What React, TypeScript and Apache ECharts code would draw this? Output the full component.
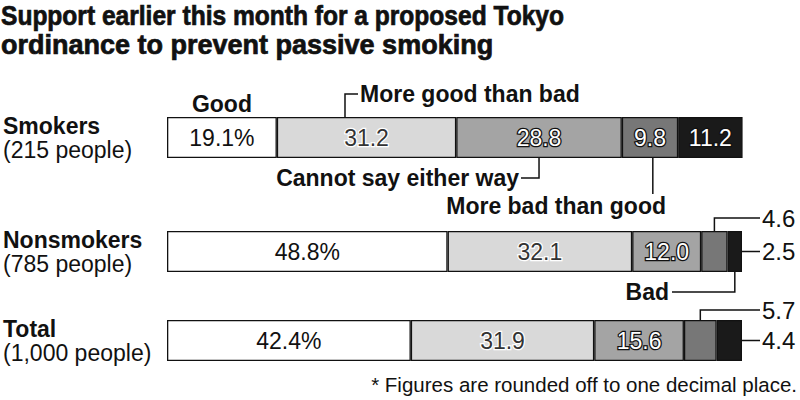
import React, { useEffect, useRef } from 'react';
import * as echarts from 'echarts';

const titleLines = ['Support earlier this month for a proposed Tokyo', 'ordinance to prevent passive smoking'];
const categories = ['Smokers', 'Nonsmokers', 'Total'];
const sampleSizes = ['(215 people)', '(785 people)', '(1,000 people)'];
const segmentNames = ['Good', 'More good than bad', 'Cannot say either way', 'More bad than good', 'Bad'];
const good = [19.1, 48.8, 42.4];
const moreGood = [31.2, 32.1, 31.9];
const cannotSay = [28.8, 12.0, 15.6];
const moreBad = [9.8, 4.6, 5.7];
const bad = [11.2, 2.5, 4.4];
const footnote = '* Figures are rounded off to one decimal place.';

const FONT = '"Liberation Sans", Arial, Helvetica, sans-serif';
const INK = '#111';
const colors = ['#ffffff', '#d9d9d9', '#a4a4a4', '#777777', '#1a1a1a'];
const gridTops = [117, 231, 320];
const BAR_H = 41;
const GRID_LEFT = 164;
const GRID_RIGHT = 58;

export default function App() {
  const ref = useRef<HTMLDivElement>(null);
  useEffect(() => {
    document.body.style.margin = '0';
    if (!ref.current) return;
    const chart = echarts.init(ref.current, null, { renderer: 'svg' });
    const values = [good, moreGood, cannotSay, moreBad, bad];

    const grids = gridTops.map((t) => ({ left: GRID_LEFT, right: GRID_RIGHT, top: t, height: BAR_H }));
    const xAxes = gridTops.map((_, g) => ({ type: 'value', gridIndex: g, min: 0, max: 100, show: false }));
    const yAxes = gridTops.map((_, g) => ({
      type: 'category',
      gridIndex: g,
      data: [categories[g]],
      axisLine: { show: false },
      axisTick: { show: false },
      axisLabel: {
        align: 'left',
        margin: GRID_LEFT,
        formatter: () => `{b|${categories[g]}}\n{r|${sampleSizes[g]}}`,
        rich: {
          b: { fontFamily: FONT, fontSize: 23, fontWeight: 'bold', color: INK, lineHeight: 24 },
          r: { fontFamily: FONT, fontSize: 23, color: INK, lineHeight: 24 },
        },
      },
    }));

    const series: any[] = [];
    for (let g = 0; g < 3; g++) {
      for (let s = 0; s < 5; s++) {
        const showLabel = g === 0 || s < 3;
        const dark = s >= 2;
        series.push({
          type: 'bar',
          name: segmentNames[s],
          xAxisIndex: g,
          yAxisIndex: g,
          stack: 'stack' + g,
          barWidth: BAR_H,
          data: [values[s][g]],
          itemStyle: { color: colors[s], borderColor: INK, borderWidth: 1.3 },
          label: {
            show: showLabel,
            position: 'inside',
            fontFamily: FONT,
            fontSize: 23,
            color: s === 0 ? INK : dark ? '#fff' : '#333',
            textBorderColor: s === 0 ? 'transparent' : dark ? '#111' : '#fff',
            textBorderWidth: s === 0 ? 0 : 2.5,
            formatter: (p: any) => (s === 0 ? `${p.value.toFixed(1)}%` : p.value.toFixed(1)),
          },
        });
      }
    }

    chart.setOption({
      animation: false,
      grid: grids,
      xAxis: xAxes,
      yAxis: yAxes,
      series,
    });

    const cum = (g: number, s: number) => values.slice(0, s).reduce((a, v) => a + v[g], 0);
    const px = (g: number, v: number) => chart.convertToPixel({ gridIndex: g }, [v, categories[g]]) as number[];
    const mid = (g: number, s: number, f = 0.5) => px(g, cum(g, s) + values[s][g] * f)[0];
    const top = (g: number) => px(g, 0)[1] - BAR_H / 2;
    const bot = (g: number) => px(g, 0)[1] + BAR_H / 2;
    const endX = (g: number) => px(g, cum(g, 5))[0];
    const cy = (g: number) => px(g, 0)[1];

    const lineStyle = { stroke: INK, lineWidth: 1.5, fill: null };
    const poly = (pts: number[][]) => ({ type: 'polyline', shape: { points: pts }, style: lineStyle, silent: true });
    const txt = (text: string, x: number, y: number, align: string, vAlign: string, bold: boolean, size = 23, scaleX = 1, stroke = 0) => ({
      type: 'text',
      x,
      y,
      scaleX,
      style: {
        text,
        fontFamily: FONT,
        fontSize: size,
        fontWeight: bold ? 'bold' : 'normal',
        fill: INK,
        align,
        verticalAlign: vAlign,
        stroke: stroke ? INK : undefined,
        lineWidth: stroke,
      },
      silent: true,
    });

    const labelX = 762;
    const graphic: any[] = [];
    // title
    graphic.push(txt(titleLines[0], 1, 16, 'left', 'middle', true, 27, 0.91, 0.7));
    graphic.push(txt(titleLines[1], 1, 45, 'left', 'middle', true, 27, 1, 0.7));
    // Smokers annotations
    graphic.push(txt(segmentNames[0], mid(0, 0), top(0) - 2, 'center', 'bottom', true));
    const mg = mid(0, 1, 0.38);
    graphic.push(poly([[mg, top(0)], [mg, 94], [358, 94]]));
    graphic.push(txt(segmentNames[1], 360, 94, 'left', 'middle', true));
    const cs = mid(0, 2);
    graphic.push(poly([[cs, bot(0)], [cs, 178], [521, 178]]));
    graphic.push(txt(segmentNames[2], 519, 178, 'right', 'middle', true));
    const mb = mid(0, 3, 0.55);
    graphic.push(poly([[mb, bot(0)], [mb, 194]]));
    graphic.push(txt(segmentNames[3], 666, 206, 'right', 'middle', true));
    // Nonsmokers annotations
    const n4 = mid(1, 3);
    graphic.push(poly([[n4, top(1)], [n4, 218], [760, 218]]));
    graphic.push(txt(moreBad[1].toFixed(1), labelX, 218, 'left', 'middle', false, 24));
    graphic.push(poly([[endX(1), cy(1)], [760, cy(1)]]));
    graphic.push(txt(bad[1].toFixed(1), labelX, cy(1), 'left', 'middle', false, 24));
    const n5 = mid(1, 4);
    graphic.push(poly([[n5, bot(1)], [n5, 292], [672, 292]]));
    graphic.push(txt(segmentNames[4], 669, 292, 'right', 'middle', true));
    // Total annotations
    const t4 = mid(2, 3);
    graphic.push(poly([[t4, top(2)], [t4, 310], [760, 310]]));
    graphic.push(txt(moreBad[2].toFixed(1), labelX, 310, 'left', 'middle', false, 24));
    graphic.push(poly([[endX(2), cy(2)], [760, cy(2)]]));
    graphic.push(txt(bad[2].toFixed(1), labelX, cy(2), 'left', 'middle', false, 24));
    // footnote
    graphic.push(txt(footnote, 797, 384, 'right', 'middle', false, 20.5));

    chart.setOption({ graphic });
    return () => chart.dispose();
  }, []);
  return <div ref={ref} style={{ width: 800, height: 400 }} />;
}
